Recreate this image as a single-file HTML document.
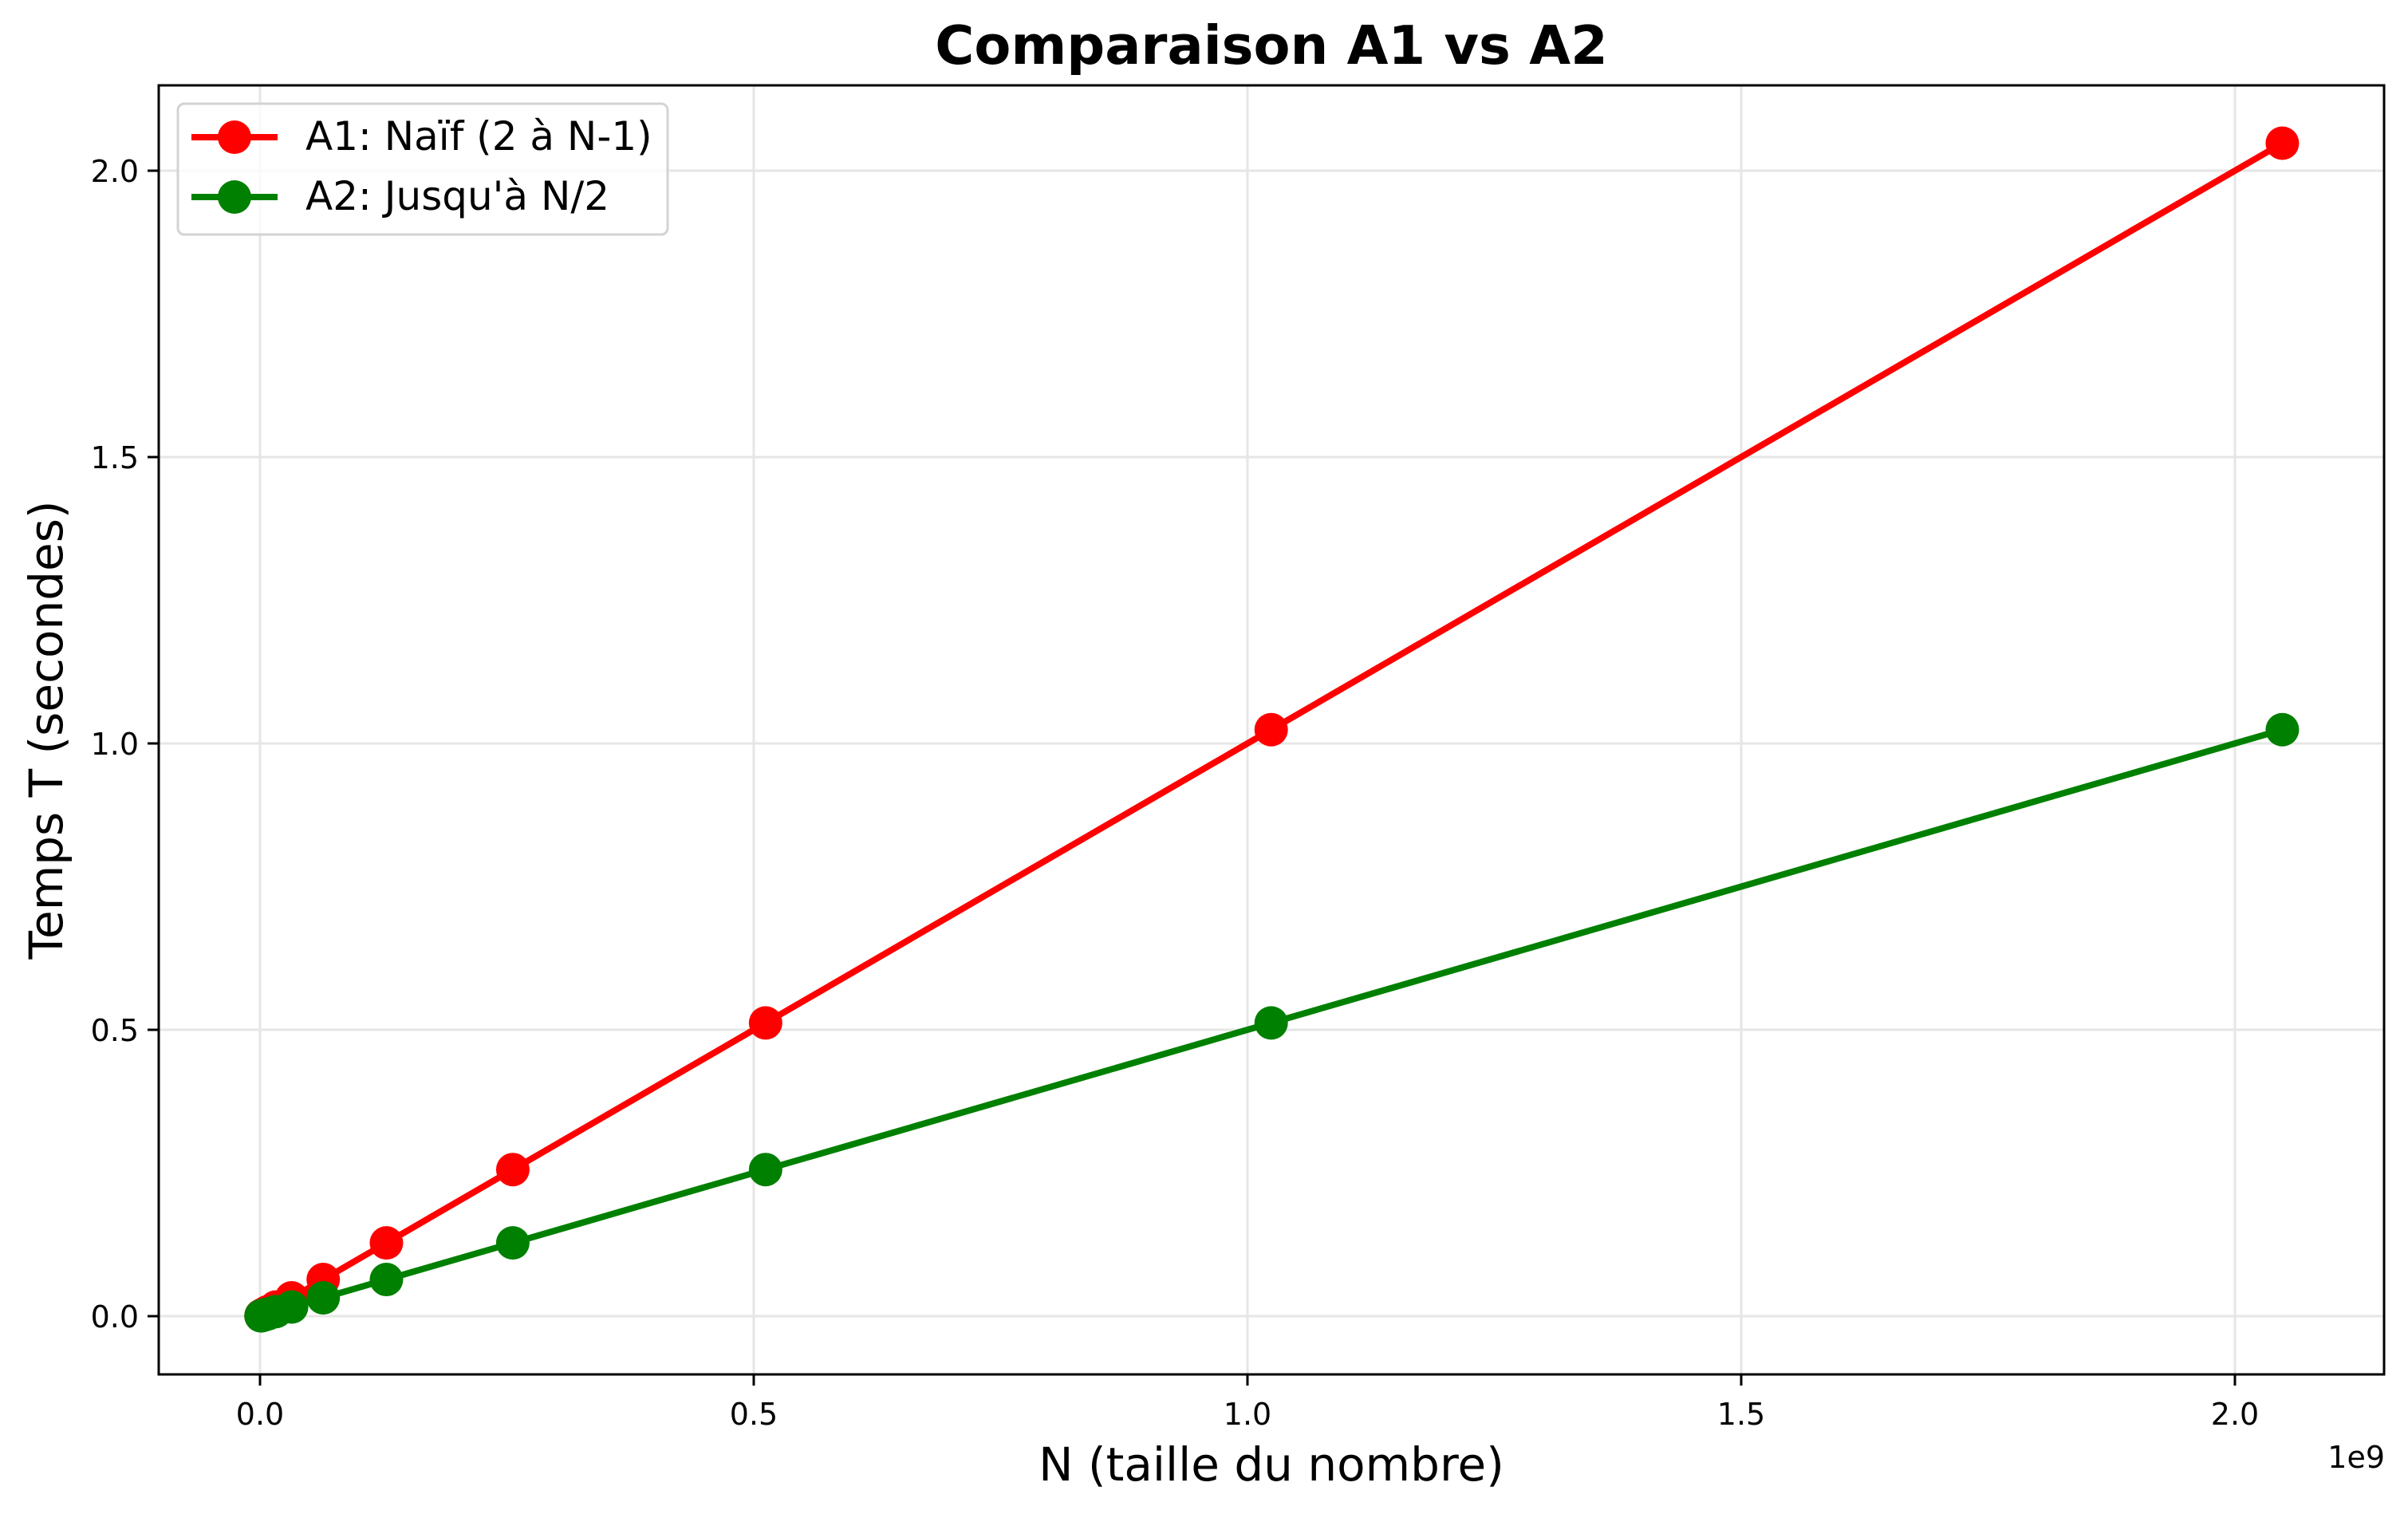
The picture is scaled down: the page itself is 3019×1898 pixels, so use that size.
<!DOCTYPE html>
<html><head><meta charset="utf-8"><style>
body{margin:0;background:#fff;}
svg{display:block;font-family:"DejaVu Sans","Liberation Sans",sans-serif;}
</style></head><body>
<svg id="chart" width="3019" height="1898" viewBox="0 0 3019 1898">
<rect width="3019" height="1898" fill="#fff"/>
<g id="grid"></g>
<g id="series"></g>
<rect x="199" y="107" width="2790" height="1616" fill="none" stroke="#000" stroke-width="3"/>
<g id="ticks"></g>
<text x="1594" y="80" font-size="67" font-weight="bold" text-anchor="middle">Comparaison A1 vs A2</text>
<text x="1594" y="1856" font-size="58" text-anchor="middle">N (taille du nombre)</text>
<text x="0" y="0" font-size="58" text-anchor="middle" transform="translate(78,915) rotate(-90)">Temps T (secondes)</text>
<text x="2990" y="1840" font-size="38" text-anchor="end">1e9</text>
<g>
<rect x="223" y="130" width="614" height="164" rx="8" fill="#fff" fill-opacity="0.8" stroke="#d3d3d3" stroke-width="3"/>
<line x1="240" y1="172" x2="348" y2="172" stroke="#ff0000" stroke-width="8"/>
<circle cx="294" cy="172" r="21" fill="#ff0000"/>
<text x="383" y="188" font-size="50">A1: Naïf (2 à N-1)</text>
<line x1="240" y1="247" x2="348" y2="247" stroke="#008000" stroke-width="8"/>
<circle cx="294" cy="247" r="21" fill="#008000"/>
<text x="383" y="263" font-size="50">A2: Jusqu'à N/2</text>
</g>
</svg>
<script>
const nValues=[1e6,2e6,4e6,8e6,16e6,32e6,64e6,128e6,256e6,512e6,1024e6,2048e6];
const a1Times=[0.001,0.002,0.004,0.008,0.016,0.032,0.064,0.128,0.256,0.512,1.024,2.048];
const a2Times=[0.0005,0.001,0.002,0.004,0.008,0.016,0.032,0.064,0.128,0.256,0.512,1.024];
const xTicks=[0,0.5e9,1.0e9,1.5e9,2.0e9];
const xTickLabels=["0.0","0.5","1.0","1.5","2.0"];
const yTicks=[0,0.5,1.0,1.5,2.0];
const yTickLabels=["0.0","0.5","1.0","1.5","2.0"];
const NS="http://www.w3.org/2000/svg";
const X=v=>326+v/1e9*1238;
const Y=v=>1650-v*718;
function mk(tag,attrs,parent){const e=document.createElementNS(NS,tag);for(const k in attrs)e.setAttribute(k,attrs[k]);parent.appendChild(e);return e;}
const grid=document.getElementById('grid'),ticks=document.getElementById('ticks'),series=document.getElementById('series');
xTicks.forEach((t,i)=>{
 const g=mk('line',{x1:X(t),x2:X(t),y1:107,y2:1723,stroke:'#e6e6e6','stroke-width':3},grid);
 
 
 const tk=mk('line',{x1:X(t),x2:X(t),y1:1723,y2:1737,stroke:'#000','stroke-width':3},ticks);
 
 
 const tx=mk('text',{x:X(t),y:1786,'font-size':38,'text-anchor':'middle'},ticks);
 tx.textContent=xTickLabels[i];
 
 
});
yTicks.forEach((t,i)=>{
 const g=mk('line',{x1:199,x2:2989,y1:Y(t),y2:Y(t),stroke:'#e6e6e6','stroke-width':3},grid);
 
 
 const tk=mk('line',{x1:185,x2:199,y1:Y(t),y2:Y(t),stroke:'#000','stroke-width':3},ticks);
 
 
 const tx=mk('text',{x:174,y:Y(t)+14,'font-size':38,'text-anchor':'end'},ticks);
 tx.textContent=yTickLabels[i];
 
 
});
function drawSeries(vals,color,name){
 const pts=nValues.map((n,i)=>X(n)+','+Y(vals[i])).join(' ');
 const pl=mk('polyline',{points:pts,fill:'none',stroke:color,'stroke-width':8,'stroke-linejoin':'round'},series);
 
 
 nValues.forEach((n,i)=>{
  const c=mk('circle',{cx:X(n),cy:Y(vals[i]),r:21,fill:color},series);
  
  
 });
}
drawSeries(a1Times,'#ff0000','a1');
drawSeries(a2Times,'#008000','a2');
</script>
</body></html>
